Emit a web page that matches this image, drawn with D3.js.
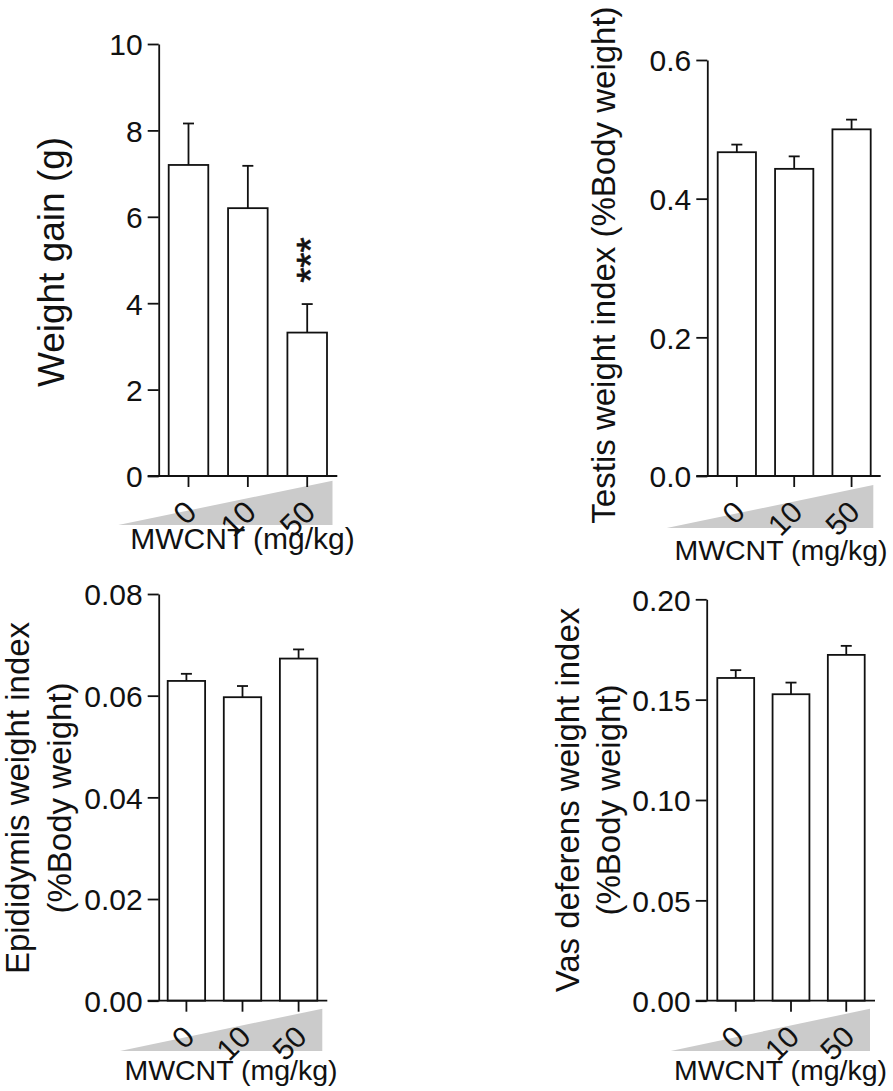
<!DOCTYPE html>
<html>
<head>
<meta charset="utf-8">
<script src="https://cdn.jsdelivr.net/npm/d3@7"></script>
<style>
  body { margin: 0; background: #fff; }
  text { font-family: "Liberation Sans", Arial, Helvetica, sans-serif; fill: #111; }
</style>
</head>
<body>
<div id="chart"></div>
<script>
// dose groups (mg/kg)
var doses = ["0", "10", "50"];

// weight gain (g), mean and SEM
var weightGain = [7.2, 6.2, 3.32];
var weightGainErr = [0.96, 0.98, 0.66];
var weightGainSig = ["", "", "***"];
var weightTicks = [0, 2, 4, 6, 8, 10];

// testis weight index (% body weight)
var testisIndex = [0.467, 0.443, 0.500];
var testisErr = [0.011, 0.018, 0.014];
var testisTicks = [0, 0.2, 0.4, 0.6];

// epididymis weight index (% body weight)
var epiIndex = [0.0629, 0.0597, 0.0673];
var epiErr = [0.0014, 0.0022, 0.0018];
var epiTicks = [0, 0.02, 0.04, 0.06, 0.08];

// vas deferens weight index (% body weight)
var vasIndex = [0.1608, 0.1527, 0.1723];
var vasErr = [0.0039, 0.0058, 0.0045];
var vasTicks = [0, 0.05, 0.10, 0.15, 0.20];

var svgWidth = 893;
var svgHeight = 1091;
var ink = "#111";
var lineW = 1.8;

// layout for each of the four panels
var panels = [
  { values: weightGain, errors: weightGainErr, sig: weightGainSig, ticks: weightTicks, fmt: "d",
    title: ["Weight gain (g)"], titleSize: 37, titleX: [64], titleY: 262,
    axisX: 158.7, y0: 476, yTop: 44, barStart: 168.7, barEnd: 327, axisEnd: 337.3,
    wedge: [[118.3, 525], [332.5, 480.7], [332.5, 525]], labelX: 242.5, labelY: 549,
    labelSize: 30, tickSize: 30, catSize: 31 },
  { values: testisIndex, errors: testisErr, sig: null, ticks: testisTicks, fmt: ".1f",
    title: ["Testis weight index (%Body weight)"], titleSize: 33, titleX: [615], titleY: 265,
    axisX: 707.3, y0: 476, yTop: 60, barStart: 717.7, barEnd: 870.7, axisEnd: 880.7,
    wedge: [[666.7, 528], [873.3, 485], [873.3, 528]], labelX: 781, labelY: 560,
    labelSize: 28.5, tickSize: 30, catSize: 30 },
  { values: epiIndex, errors: epiErr, sig: null, ticks: epiTicks, fmt: ".2f",
    title: ["Epididymis weight index", "(%Body weight)"], titleSize: 33, titleX: [28.5, 71], titleY: 798,
    axisX: 158.7, y0: 1000.7, yTop: 594, barStart: 167.7, barEnd: 317.3, axisEnd: 327.3,
    wedge: [[120, 1051], [322.3, 1008.7], [322.3, 1051]], labelX: 231, labelY: 1080,
    labelSize: 28.5, tickSize: 30, catSize: 30 },
  { values: vasIndex, errors: vasErr, sig: null, ticks: vasTicks, fmt: ".2f",
    title: ["Vas deferens weight index", "(%Body weight)"], titleSize: 33, titleX: [579, 620], titleY: 800,
    axisX: 706.7, y0: 1000.7, yTop: 599.3, barStart: 717.3, barEnd: 864.7, axisEnd: 875,
    wedge: [[670.7, 1051], [870, 1008.7], [870, 1051]], labelX: 780.5, labelY: 1080,
    labelSize: 28.5, tickSize: 30, catSize: 30 }
];

var svg = d3.select("#chart")
  .append("svg")
  .attr("width", svgWidth)
  .attr("height", svgHeight);

svg.append("rect")
  .attr("width", svgWidth)
  .attr("height", svgHeight)
  .attr("fill", "#fff");

panels.forEach(function(p) {
  var g = svg.append("g");

  var y = d3.scaleLinear()
    .domain([0, d3.max(p.ticks)])
    .range([p.y0, p.yTop]);

  var x = d3.scaleBand()
    .domain(doses)
    .range([p.barStart, p.barEnd])
    .paddingInner(0.333)
    .paddingOuter(0);

  // grey dose wedge under the x axis
  g.append("path")
    .attr("d", d3.line()(p.wedge) + "Z")
    .attr("fill", "#cbcbcb");

  // bars
  g.selectAll("rect.bar")
    .data(p.values)
    .enter()
    .append("rect")
    .attr("class", "bar")
    .attr("x", (d, i) => x(doses[i]))
    .attr("y", d => y(d))
    .attr("width", x.bandwidth())
    .attr("height", d => y(0) - y(d))
    .attr("fill", "#fff")
    .attr("stroke", ink)
    .attr("stroke-width", lineW);

  // upper error bars
  var cx = i => x(doses[i]) + x.bandwidth() / 2;
  g.selectAll("line.err")
    .data(p.values)
    .enter()
    .append("line")
    .attr("class", "err")
    .attr("x1", (d, i) => cx(i))
    .attr("x2", (d, i) => cx(i))
    .attr("y1", d => y(d))
    .attr("y2", (d, i) => y(d + p.errors[i]))
    .attr("stroke", ink)
    .attr("stroke-width", lineW);

  g.selectAll("line.cap")
    .data(p.values)
    .enter()
    .append("line")
    .attr("class", "cap")
    .attr("x1", (d, i) => cx(i) - 5.5)
    .attr("x2", (d, i) => cx(i) + 5.5)
    .attr("y1", (d, i) => y(d + p.errors[i]))
    .attr("y2", (d, i) => y(d + p.errors[i]))
    .attr("stroke", ink)
    .attr("stroke-width", lineW);

  // significance marks
  if (p.sig) {
    g.selectAll("text.sig")
      .data(p.values)
      .enter()
      .append("text")
      .attr("class", "sig")
      .attr("transform", (d, i) => `translate(${cx(i) + 16.5},${y(d + p.errors[i]) - 44}) rotate(-90)`)
      .attr("text-anchor", "middle")
      .attr("font-size", 39)
      .attr("stroke", ink)
      .attr("stroke-width", 0.6)
      .text((d, i) => p.sig[i]);
  }

  // y axis
  var yAxis = d3.axisLeft(y)
    .tickValues(p.ticks)
    .tickFormat(d3.format(p.fmt))
    .tickSize(11)
    .tickSizeOuter(0)
    .tickPadding(5);

  var yg = g.append("g")
    .attr("transform", `translate(${p.axisX},0)`)
    .attr("color", ink)
    .attr("font-family", null)
    .call(yAxis);
  yg.selectAll("path, line").attr("stroke-width", lineW);
  yg.selectAll("text").attr("font-size", p.tickSize).attr("dy", "0.36em");

  // x axis
  var xAxis = d3.axisBottom(x)
    .tickSize(11)
    .tickSizeOuter(0);

  var xg = g.append("g")
    .attr("transform", `translate(0,${p.y0})`)
    .attr("color", ink)
    .attr("font-family", null)
    .call(xAxis);
  xg.select(".domain").remove();
  xg.selectAll("line").attr("stroke-width", lineW);
  xg.selectAll("text")
    .attr("x", 0)
    .attr("y", 0)
    .attr("dy", 0)
    .attr("font-size", p.catSize)
    .attr("text-anchor", "end")
    .attr("transform", "translate(10,38) rotate(-45)");

  g.append("line")
    .attr("x1", p.axisX - 11)
    .attr("x2", p.axisEnd)
    .attr("y1", p.y0)
    .attr("y2", p.y0)
    .attr("stroke", ink)
    .attr("stroke-width", lineW);

  // axis titles
  g.append("text")
    .attr("x", p.labelX)
    .attr("y", p.labelY)
    .attr("text-anchor", "middle")
    .attr("font-size", p.labelSize)
    .text("MWCNT (mg/kg)");

  p.title.forEach(function(line, k) {
    g.append("text")
      .attr("transform", `translate(${p.titleX[k]},${p.titleY}) rotate(-90)`)
      .attr("text-anchor", "middle")
      .attr("font-size", p.titleSize)
      .text(line);
  });
});
</script>
</body>
</html>
